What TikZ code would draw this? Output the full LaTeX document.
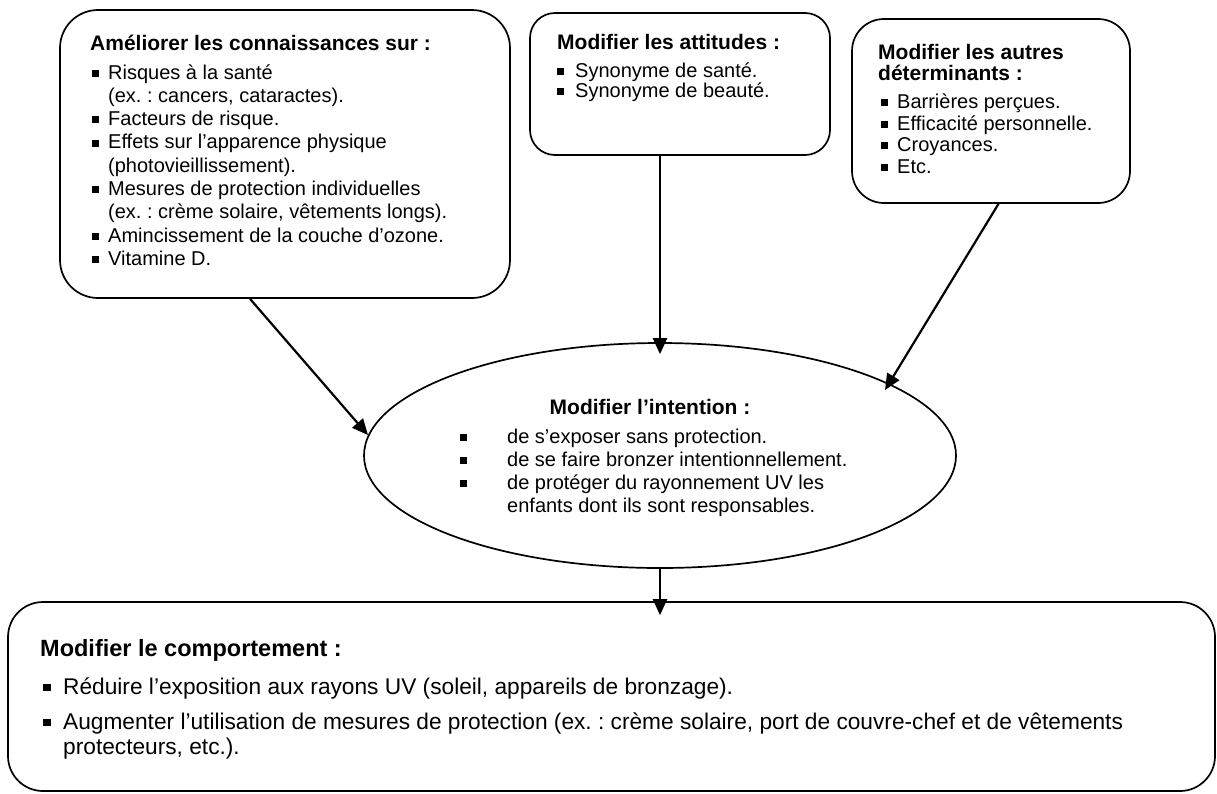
\documentclass[tikz,border=0pt]{standalone}
\usepackage{fontspec}
\setmainfont{Liberation Sans}
\usetikzlibrary{shapes.geometric,arrows.meta,calc}
\newcommand\bul[2]{\makebox[#2][l]{\hspace*{#1}\raisebox{0.12em}{\rule{0.34em}{0.34em}}}}
\frenchspacing
\begin{document}
\begin{tikzpicture}[x=1pt,y=-1pt,
  rbox/.style={draw, line width=1.7pt, rounded corners=#1, inner sep=0pt},
  oval/.style={draw, ellipse, line width=1.7pt, inner sep=0pt},
  arr/.style={line width=2.2pt, -{Triangle[length=16pt,width=14pt]}},
  txt/.style={inner sep=0pt, anchor=base west},
  head/.style={inner sep=0pt, anchor=base, font=\bfseries\fontsize{21}{23}\selectfont}]
\useasboundingbox (0,0) rectangle (1217,793);

% boxes
\node[rbox=38pt, minimum width=450pt, minimum height=288pt] (b1) at (285,154) {};
\node[rbox=25pt, minimum width=300pt, minimum height=142pt] (b2) at (680,84) {};
\node[rbox=32pt, minimum width=278pt, minimum height=184pt] (b3) at (991,111) {};
\node[oval, minimum width=592pt, minimum height=225pt] (e) at (660,455.5) {};
\node[rbox=35pt, minimum width=1207pt, minimum height=189pt] (b4) at (611.5,696.5) {};

% texts
\node[txt] (t1) at (90,50) {\parbox[t]{415pt}{\fontsize{20}{23.3}\selectfont
{\bfseries\fontsize{21}{23}\selectfont Améliorer les connaissances sur :}\\[5.7pt]
\bul{2pt}{18pt}Risques à la santé\\
\hspace*{18pt}(ex. : cancers, cataractes).\\
\bul{2pt}{18pt}Facteurs de risque.\\
\bul{2pt}{18pt}Effets sur l’apparence physique\\
\hspace*{18pt}(photovieillissement).\\
\bul{2pt}{18pt}Mesures de protection individuelles\\
\hspace*{18pt}(ex. : crème solaire, vêtements longs).\\
\bul{2pt}{18pt}Amincissement de la couche d’ozone.\\
\bul{2pt}{18pt}Vitamine D.}};

\node[txt] (t2) at (557,49) {\parbox[t]{265pt}{\fontsize{20}{20}\selectfont
{\bfseries\fontsize{21}{23}\selectfont Modifier les attitudes :}\\[8pt]
\bul{0pt}{18pt}Synonyme de santé.\\
\bul{0pt}{18pt}Synonyme de beauté.}};

\node[txt] (t3) at (878,59) {\parbox[t]{245pt}{\fontsize{20}{21.5}\selectfont
{\bfseries\fontsize{21}{23}\selectfont Modifier les autres\\déterminants :}\\[6.5pt]
\bul{3pt}{19pt}Barrières perçues.\\
\bul{3pt}{19pt}Efficacité personnelle.\\
\bul{3pt}{19pt}Croyances.\\
\bul{3pt}{19pt}Etc.}};

\node[head] (th) at (650,414) {Modifier l’intention :};
\node[txt] (te) at (460,443) {\parbox[t]{420pt}{\fontsize{20}{23.3}\selectfont
\bul{0pt}{47pt}de s’exposer sans protection.\\
\bul{0pt}{47pt}de se faire bronzer intentionnellement.\\
\bul{0pt}{47pt}de protéger du rayonnement UV les\\
\hspace*{47pt}enfants dont ils sont responsables.}};

\node[txt] (t4) at (40,656) {\parbox[t]{1150pt}{\fontsize{22.7}{25.5}\selectfont
{\bfseries\fontsize{23.5}{25.5}\selectfont Modifier le comportement :}\\[12.5pt]
\bul{3pt}{23pt}Réduire l’exposition aux rayons UV (soleil, appareils de bronzage).\\[9.5pt]
\bul{3pt}{23pt}Augmenter l’utilisation de mesures de protection (ex. : crème solaire, port de couvre-chef et de vêtements\\
\hspace*{23pt}protecteurs, etc.).}};

% connectors
\coordinate (p3) at (885,390);
\coordinate (p4) at ($(e.south |- b4.north)+(0,14)$);
\draw[arr] ([xshift=-35pt]b1.south) -- (e.176);
\draw[arr] ([xshift=-20pt]b2.south) -- ([yshift=-12pt]e.north);
\draw[arr] ([xshift=7.5pt]b3.south) -- (p3);
\draw[arr] (e.south) -- (p4);
\end{tikzpicture}
\end{document}
